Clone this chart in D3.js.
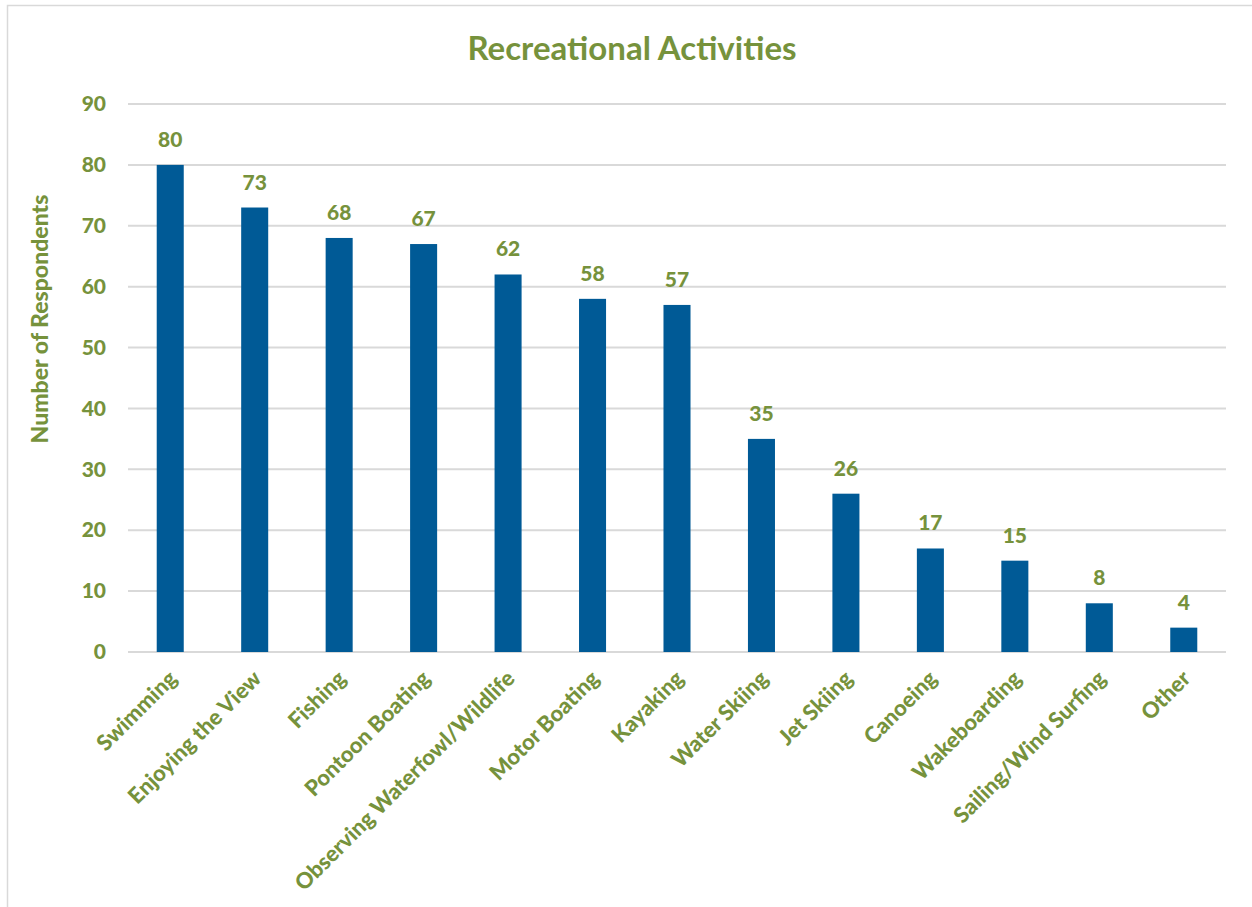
<!DOCTYPE html>
<html>
<head>
<meta charset="utf-8">
<script src="https://cdn.jsdelivr.net/npm/d3@7"></script>
<style>
  body { margin: 0; background: #fff; }
  svg { display: block; font-family: Lato, "Open Sans", sans-serif; }
</style>
</head>
<body>
<svg id="chart"></svg>
<script>
const categories = ["Swimming", "Enjoying the View", "Fishing", "Pontoon Boating", "Observing Waterfowl/Wildlife",
  "Motor Boating", "Kayaking", "Water Skiing", "Jet Skiing", "Canoeing", "Wakeboarding", "Sailing/Wind Surfing", "Other"];
const respondents = [80, 73, 68, 67, 62, 58, 57, 35, 26, 17, 15, 8, 4];
const yTicks = [0, 10, 20, 30, 40, 50, 60, 70, 80, 90];

const width = 1252, height = 907;
const green = "#76923c";
const blue = "#005a96";
const heavy = 900;

const margin = { left: 128, right: 26, top: 104, bottom: 255 };

const svg = d3.select("#chart").attr("width", width).attr("height", height);

// chart frame
svg.append("rect")
  .attr("x", 7.5).attr("y", 5.5)
  .attr("width", width + 10).attr("height", height + 10)
  .attr("fill", "#fff").attr("stroke", "#d9d9d9").attr("stroke-width", 1.5);

const x = d3.scaleBand()
  .domain(categories)
  .range([margin.left, width - margin.right])
  .paddingInner(0.68).paddingOuter(0.34);

const y = d3.scaleLinear()
  .domain([0, 90])
  .range([height - margin.bottom, margin.top]);

// gridlines
svg.append("g")
  .selectAll("line")
  .data(yTicks)
  .join("line")
  .attr("x1", margin.left).attr("x2", width - margin.right)
  .attr("y1", d => y(d)).attr("y2", d => y(d))
  .attr("stroke", "#d9d9d9").attr("stroke-width", 2);

// y axis labels
const yAxis = svg.append("g")
  .attr("transform", `translate(${margin.left},0)`)
  .call(d3.axisLeft(y).tickValues(yTicks).tickSize(0).tickPadding(22));
yAxis.select(".domain").remove();
yAxis.selectAll("text")
  .attr("fill", green).attr("font-size", 21).attr("font-weight", heavy)
  .attr("font-family", "Lato, sans-serif");

// bars
svg.append("g")
  .selectAll("rect")
  .data(respondents)
  .join("rect")
  .attr("x", (d, i) => x(categories[i]))
  .attr("y", d => y(d))
  .attr("width", x.bandwidth())
  .attr("height", d => y(0) - y(d))
  .attr("fill", blue);

// value labels
svg.append("g")
  .selectAll("text")
  .data(respondents)
  .join("text")
  .attr("x", (d, i) => x(categories[i]) + x.bandwidth() / 2)
  .attr("y", d => y(d) - 18)
  .attr("text-anchor", "middle")
  .attr("fill", green).attr("font-size", 21).attr("font-weight", heavy)
  .text(d => d);

// x axis labels
const xAxis = svg.append("g")
  .attr("transform", `translate(0,${y(0)})`)
  .call(d3.axisBottom(x).tickSize(0).tickPadding(0));
xAxis.select(".domain").remove();
xAxis.selectAll("text")
  .attr("fill", green).attr("font-size", 22).attr("font-weight", heavy)
  .attr("font-family", "Lato, sans-serif")
  .attr("text-anchor", "end")
  .attr("dy", 0)
  .attr("transform", "translate(8,28) rotate(-45)");

// title
svg.append("text")
  .attr("x", 632).attr("y", 60)
  .attr("text-anchor", "middle")
  .attr("fill", green).attr("font-size", 33).attr("font-weight", "bold")
  .text("Recreational Activities");

// y axis title
svg.append("text")
  .attr("transform", `translate(48,319) rotate(-90)`)
  .attr("text-anchor", "middle")
  .attr("fill", green).attr("font-size", 23).attr("font-weight", heavy)
  .text("Number of Respondents");
</script>
</body>
</html>
